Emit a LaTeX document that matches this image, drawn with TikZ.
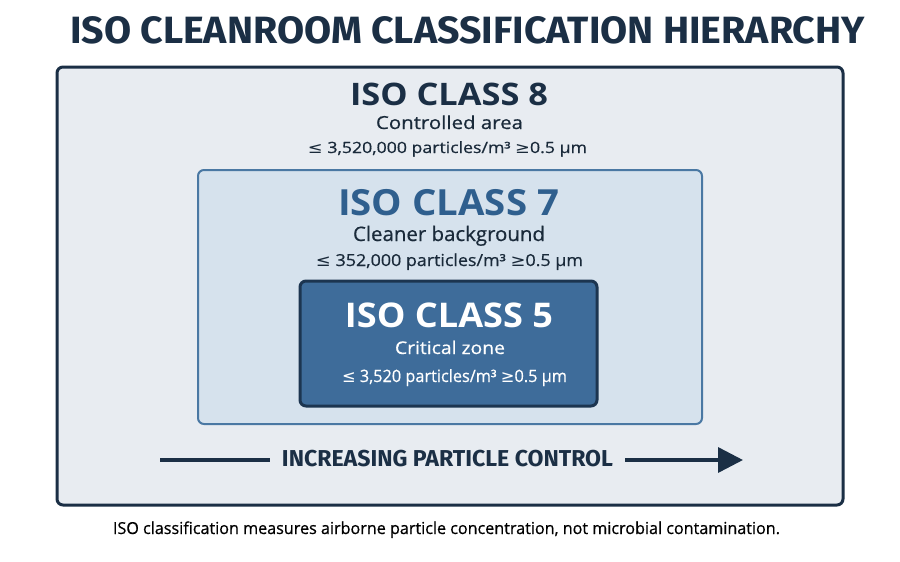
\documentclass[tikz,border=0pt]{standalone}
\usepackage{fontspec}
\usepackage{graphicx}
\setmainfont{Open Sans}
\newfontfamily\bodyfont{Open Sans}[FakeBold=0.6]
\newfontfamily\titlefont{Fira Sans}
\newfontfamily\symfont{DejaVu Sans}
\usetikzlibrary{arrows.meta}
\definecolor{navy}{HTML}{1B2F45}
\definecolor{outerfill}{HTML}{E8ECF1}
\definecolor{sevenfill}{HTML}{D6E2ED}
\definecolor{sevenline}{HTML}{4A78A3}
\definecolor{seventext}{HTML}{2F5F8E}
\definecolor{fivefill}{HTML}{3E6C9A}
\definecolor{fiveline}{HTML}{1C3550}
\definecolor{bodytext}{HTML}{1A2A3A}
\newcommand{\fitw}[2]{\resizebox{#1pt}{\height}{#2}}
\newcommand{\lesym}{{\symfont ≤}}
\newcommand{\gesym}{{\symfont ≥}}
\tikzset{
  box/.style={rounded corners=6pt},
  lbl/.style={inner sep=0pt, anchor=base},
}
\begin{document}
\begin{tikzpicture}[x=1pt,y=-1pt]
\useasboundingbox[fill=white] (0,0) rectangle (900,562);
% title
\node[lbl, text=navy, font=\titlefont\bfseries\fontsize{38}{40}\selectfont] (title) at (467.5,43) {\fitw{795}{ISO CLEANROOM CLASSIFICATION HIERARCHY}};
% outer
\draw[box, fill=outerfill, draw=navy, line width=3pt] (57,67) rectangle (843,505);
\node[lbl, text=navy, font=\bfseries\fontsize{31}{33}\selectfont] (c8t) at (449,105) {\fitw{198}{ISO CLASS 8}};
\node[lbl, text=bodytext, font=\bodyfont\fontsize{18}{20}\selectfont] (c8a) at (449.5,129) {\fitw{147}{Controlled area}};
\node[lbl, text=bodytext, font=\bodyfont\fontsize{15.5}{18}\selectfont] (c8b) at (447.5,153) {\fitw{279}{\lesym{} 3,520,000 particles/m³ \gesym0.5 µm}};
% class 7
\draw[box, fill=sevenfill, draw=sevenline, line width=2pt] (198,170) rectangle (702,424);
\node[lbl, text=seventext, font=\bfseries\fontsize{36}{38}\selectfont] (c7t) at (448.5,215) {\fitw{221}{ISO CLASS 7}};
\node[lbl, text=bodytext, font=\bodyfont\fontsize{20}{22}\selectfont] (c7a) at (449,241) {\fitw{192}{Cleaner background}};
\node[lbl, text=bodytext, font=\bodyfont\fontsize{16.5}{19}\selectfont] (c7b) at (449.5,266) {\fitw{267}{\lesym{} 352,000 particles/m³ \gesym0.5 µm}};
% class 5
\draw[box, fill=fivefill, draw=fiveline, line width=3pt] (300,281) rectangle (597,406);
\node[lbl, text=white, font=\bfseries\fontsize{34}{36}\selectfont] (c5t) at (449,327) {\fitw{208}{ISO CLASS 5}};
\node[lbl, text=white, font=\bodyfont\fontsize{17.5}{20}\selectfont] (c5a) at (450,354) {\fitw{110}{Critical zone}};
\node[lbl, text=white, font=\bodyfont\fontsize{17}{20}\selectfont] (c5b) at (454.5,382) {\fitw{225}{\lesym{} 3,520 particles/m³ \gesym0.5 µm}};
% arrow
\node[lbl, text=navy, font=\titlefont\bfseries\fontsize{23}{25}\selectfont] (arr) at (447.5,466) {\fitw{331}{INCREASING PARTICLE CONTROL}};
\coordinate (al) at (160,460);
\coordinate (ar) at (743,460);
\draw[navy, line width=3.5pt] (al) -- ([xshift=-12pt]arr.west |- al);
\draw[navy, line width=3.5pt, -{Triangle[length=25pt,width=25pt]}] ([xshift=12pt]arr.east |- ar) -- (ar);
% footnote
\node[lbl, text=black, font=\bodyfont\fontsize{16.5}{19}\selectfont] (foot) at (446.5,534) {\fitw{667}{ISO classification measures airborne particle concentration, not microbial contamination.}};
\end{tikzpicture}
\end{document}
